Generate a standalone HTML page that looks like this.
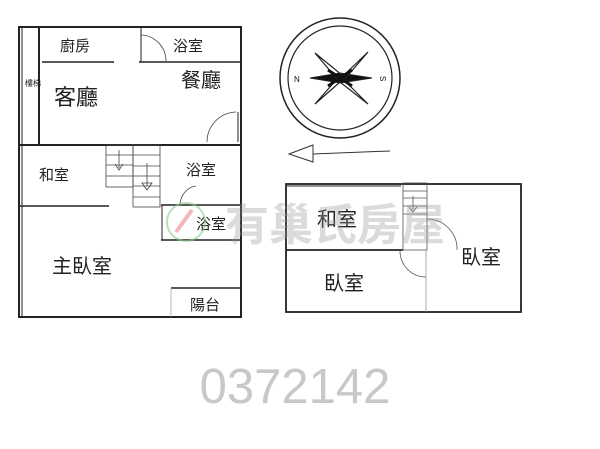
<!DOCTYPE html>
<html><head><meta charset="utf-8"><style>
body{margin:0;background:#fff;width:600px;height:444px;overflow:hidden}
svg text{font-family:"Liberation Sans","Noto Sans CJK TC",sans-serif}
</style></head><body>
<svg width="600" height="444" viewBox="0 0 600 444">
<g stroke="#222" fill="none" stroke-width="2">
<rect x="19" y="27" width="222" height="290"/>
<line x1="22" y1="27" x2="22" y2="317" stroke-width="1"/>
<line x1="39" y1="28" x2="39" y2="145"/>
<line x1="42" y1="62" x2="114" y2="62" stroke-width="1.5"/>
<line x1="139" y1="62" x2="241" y2="62" stroke-width="1.5"/>
<line x1="141" y1="27" x2="141" y2="62" stroke-width="1"/>
<line x1="19" y1="145" x2="241" y2="145"/>
<line x1="238" y1="112" x2="238" y2="142" stroke-width="1"/>
<line x1="19" y1="206" x2="109" y2="206" stroke-width="1.5"/>
<line x1="161" y1="205" x2="241" y2="205" stroke-width="1.5"/>
<line x1="161" y1="240" x2="241" y2="240" stroke-width="1.5"/>
<line x1="162" y1="205" x2="162" y2="240" stroke-width="1"/>
<line x1="171" y1="288" x2="241" y2="288" stroke-width="1.5"/>
<line x1="171" y1="288" x2="171" y2="317" stroke-width="0.7" stroke="#999"/>
</g>
<g stroke="#444" fill="none" stroke-width="0.8">
<path d="M141 35 A26 26 0 0 1 166 61"/>
<path d="M207 142 A30 30 0 0 1 236 112"/>
<path d="M180 204 A18 20 0 0 1 196 186"/>
<rect x="106" y="145" width="27" height="42"/>
<rect x="133" y="145" width="27" height="62"/>
<line x1="106" y1="155" x2="133" y2="155"/><line x1="106" y1="165" x2="133" y2="165"/><line x1="106" y1="176" x2="133" y2="176"/>
<line x1="133" y1="155" x2="160" y2="155"/><line x1="133" y1="166" x2="160" y2="166"/><line x1="133" y1="176" x2="160" y2="176"/><line x1="133" y1="186" x2="160" y2="186"/><line x1="133" y1="197" x2="160" y2="197"/>
<line x1="119" y1="150" x2="119" y2="168"/><path d="M115 164 L119 170 L123 164"/>
<line x1="147" y1="163" x2="147" y2="186"/><path d="M142 183 L147 190 L152 183 Z"/>
</g>
<g font-size="15" fill="#222">
<text x="60" y="51">廚房</text><text x="173" y="51">浴室</text>
<text x="54" y="105" font-size="22">客廳</text><text x="181" y="87" font-size="20">餐廳</text>
<text x="39" y="180">和室</text><text x="186" y="175">浴室</text><text x="196" y="229">浴室</text>
<text x="52" y="273" font-size="20">主臥室</text><text x="190" y="310">陽台</text>
<text x="25" y="86" font-size="8">樓梯</text>
</g>
<g stroke="#222" fill="none">
<circle cx="340" cy="78" r="60" stroke-width="1.5"/><circle cx="340" cy="78" r="52" stroke-width="1.2"/>
<path d="M310 78 L340 73 L372 78 L340 83 Z" fill="#111"/>
<path d="M315 53 L343 76 L368 52 L344 80 L368 104 L340 82 L315 104 L337 79 Z" stroke-width="1.2"/>
<path d="M328 70 L340 78 L352 86 M352 70 L340 78 L328 86" stroke-width="3" stroke="#111"/>
</g>
<text x="294" y="82" font-size="8" fill="#111">N</text><text x="380" y="82" font-size="8" fill="#111" transform="rotate(90 383 79)">S</text>
<path d="M289 154 L313 145 L313 162 Z M313 154 L390 151" stroke="#333" fill="none" stroke-width="1"/>
<g stroke="#222" fill="none" stroke-width="1.8">
<rect x="286" y="184" width="235" height="128"/>
<line x1="286" y1="250" x2="403" y2="250"/>
<line x1="287" y1="186" x2="401" y2="186" stroke-width="1"/>
</g>
<g stroke="#555" fill="none" stroke-width="0.8">
<rect x="403" y="183" width="24" height="67"/>
<line x1="403" y1="191" x2="427" y2="191"/><line x1="403" y1="198" x2="427" y2="198"/><line x1="403" y1="206" x2="427" y2="206"/><line x1="403" y1="214" x2="427" y2="214"/>
<line x1="413" y1="196" x2="413" y2="210"/><path d="M409 207 L413 212 L417 207"/>
<line x1="426" y1="250" x2="426" y2="312" stroke="#999"/>
<path d="M427 219 A30 30 0 0 1 457 250"/>
<path d="M400 251 A26 26 0 0 0 426 277"/>
</g>
<g font-size="20" fill="#222"><text x="317" y="226">和室</text><text x="324" y="290">臥室</text><text x="461" y="264">臥室</text></g>
<text x="225" y="240" font-size="44" fill="#999" opacity="0.35" font-weight="bold">有巢氏房屋</text>
<circle cx="186" cy="222" r="19" fill="none" stroke="#8c8" stroke-width="2" opacity="0.6"/>
<path d="M176 232 L192 210" stroke="#e88" stroke-width="4" opacity="0.6"/>
<text x="295" y="403" font-size="49" fill="#c8c8c8" text-anchor="middle">0372142</text>
</svg>
</body></html>
